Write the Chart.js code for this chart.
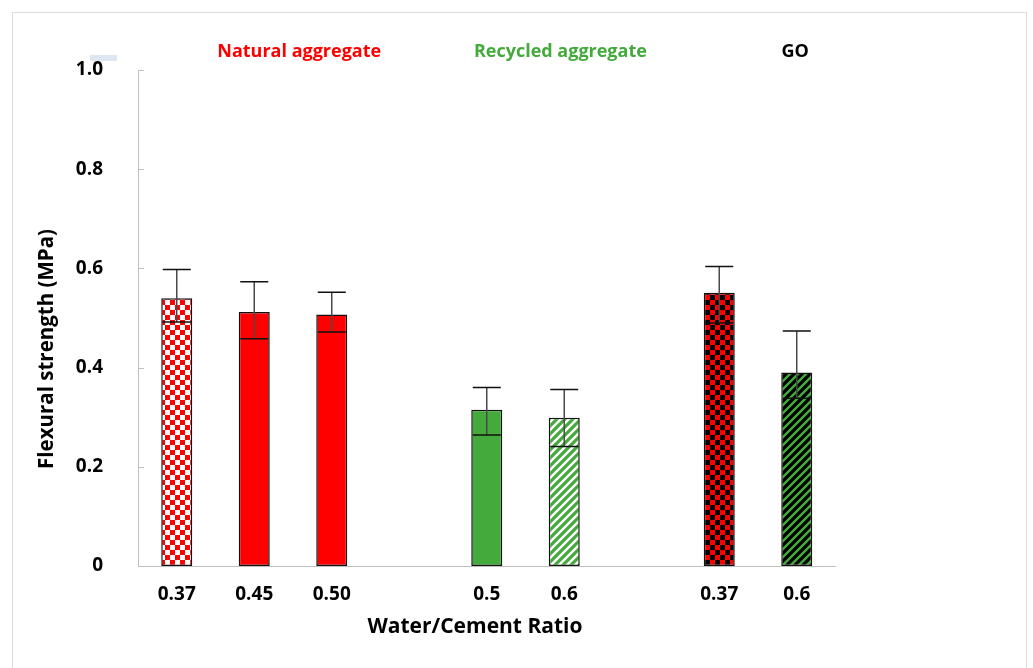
<!DOCTYPE html>
<html>
<head>
<meta charset="utf-8">
<script src="https://cdn.jsdelivr.net/npm/chart.js@4.4.0/dist/chart.umd.min.js"></script>
<style>
  html, body { margin: 0; padding: 0; background: #fff; }
  #wrap { width: 1033px; height: 668px; }
</style>
</head>
<body>
<div id="wrap"><canvas id="chartFlexural" width="1033" height="668"></canvas></div>
<script>
// Water/cement ratios (empty slots separate the three groups)
const ratios = ['0.37', '0.45', '0.50', '', '0.5', '0.6', '', '0.37', '0.6'];
// Mean flexural strength (MPa)
const strength = [0.540, 0.512, 0.507, null, 0.315, 0.299, null, 0.551, 0.390];
// Error bar ends (MPa)
const errHigh = [0.598, 0.573, 0.552, null, 0.360, 0.356, null, 0.604, 0.474];
const errLow = [0.492, 0.458, 0.472, null, 0.264, 0.241, null, 0.490, 0.338];
const groupNames = ['Natural aggregate', 'Recycled aggregate', 'GO'];

const RED = '#ff0000';
const GREEN = '#43aa3b';
const FONT = "'Open Sans', 'DejaVu Sans', sans-serif";

function checker(c1, c2, s) {
    const cv = document.createElement('canvas');
    cv.width = cv.height = s * 2;
    const g = cv.getContext('2d');
    g.fillStyle = c2; g.fillRect(0, 0, s * 2, s * 2);
    g.fillStyle = c1; g.fillRect(0, 0, s, s); g.fillRect(s, s, s, s);
    return g.createPattern(cv, 'repeat');
}

function stripes(fg, bg, p) {
    const cv = document.createElement('canvas');
    cv.width = cv.height = p;
    const g = cv.getContext('2d');
    g.fillStyle = bg; g.fillRect(0, 0, p, p);
    g.strokeStyle = fg; g.lineWidth = p * 0.4;
    g.beginPath();
    g.moveTo(-2, 2); g.lineTo(2, -2);
    g.moveTo(0, p); g.lineTo(p, 0);
    g.moveTo(p - 2, p + 2); g.lineTo(p + 2, p - 2);
    g.stroke();
    return g.createPattern(cv, 'repeat');
}

const fills = [
    checker(RED, '#ffffff', 5), RED, RED, null,
    GREEN, stripes(GREEN, '#ffffff', 8), null,
    checker(RED, '#000000', 5), stripes('#000000', GREEN, 8)
];

// frame, headers, axis titles, inner ticks and error bars
const decor = {
    id: 'decor',
    beforeDraw(chart) {
        const ctx = chart.ctx;
        ctx.save();
        ctx.strokeStyle = '#dcdcdc';
        ctx.lineWidth = 1;
        ctx.strokeRect(12.5, 12.5, 1014, 700);
        ctx.fillStyle = '#dde6f1';
        ctx.fillRect(90, 55, 27, 6);
        ctx.restore();
    },
    afterDatasetsDraw(chart) {
        const ctx = chart.ctx;
        const y = chart.scales.y;
        const meta = chart.getDatasetMeta(0);
        ctx.save();
        meta.data.forEach((bar, i) => {
            if (strength[i] === null) return;
            const top = y.getPixelForValue(errHigh[i]);
            const bot = y.getPixelForValue(errLow[i]);
            ctx.strokeStyle = '#4a4a4a';
            ctx.lineWidth = 1.5;
            ctx.beginPath();
            ctx.moveTo(bar.x, top); ctx.lineTo(bar.x, bot);
            ctx.stroke();
            ctx.strokeStyle = '#111';
            ctx.beginPath();
            ctx.moveTo(bar.x - 14, top); ctx.lineTo(bar.x + 14, top);
            ctx.moveTo(bar.x - 14, bot); ctx.lineTo(bar.x + 14, bot);
            ctx.stroke();
        });
        ctx.restore();
    },
    afterDraw(chart) {
        const ctx = chart.ctx;
        const x = chart.scales.x;
        const y = chart.scales.y;
        const area = chart.chartArea;
        ctx.save();
        // small inward ticks on the y axis
        ctx.strokeStyle = '#bfbfbf';
        ctx.lineWidth = 1;
        y.ticks.forEach(t => {
            if (t.value === 0) return;
            const py = Math.round(y.getPixelForValue(t.value)) + 0.5;
            ctx.beginPath();
            ctx.moveTo(area.left, py); ctx.lineTo(area.left + 6, py);
            ctx.stroke();
        });
        // group headers
        const at = [1.58, 4.95, 7.98];
        const cols = [RED, GREEN, '#000000'];
        ctx.font = `bold 18px ${FONT}`;
        ctx.textAlign = 'center';
        ctx.textBaseline = 'middle';
        groupNames.forEach((n, i) => {
            ctx.fillStyle = cols[i];
            ctx.fillText(n, x.getPixelForValue(at[i]), 52);
        });
        // x axis title
        ctx.fillStyle = '#000';
        ctx.font = `bold 21px ${FONT}`;
        ctx.fillText('Water/Cement Ratio', 475, 627);
        // y axis title
        ctx.translate(47, 349);
        ctx.rotate(-Math.PI / 2);
        ctx.font = `bold 20.5px ${FONT}`;
        ctx.fillText('Flexural strength (MPa)', 0, 0);
        ctx.restore();
    }
};

new Chart(document.getElementById('chartFlexural'), {
    type: 'bar',
    data: {
        labels: ratios,
        datasets: [{
            data: strength,
            backgroundColor: fills,
            borderColor: '#111',
            borderWidth: 1.5,
            borderSkipped: false,
            barPercentage: 0.4,
            categoryPercentage: 1
        }]
    },
    options: {
        responsive: false,
        animation: false,
        devicePixelRatio: 1,
        layout: { padding: { top: 70, right: 197.5, left: 0, bottom: 0 } },
        plugins: { legend: { display: false }, tooltip: { enabled: false } },
        scales: {
            x: {
                grid: { display: false, drawTicks: false },
                border: { display: true, color: '#bfbfbf', width: 1 },
                ticks: { color: '#000', font: { family: FONT, size: 19, weight: 'bold' }, padding: 17, maxRotation: 0, autoSkip: false },
                afterFit: s => { s.height = 102; }
            },
            y: {
                min: 0,
                max: 1,
                grid: { display: false, drawTicks: false },
                border: { display: true, color: '#bfbfbf', width: 1 },
                ticks: {
                    stepSize: 0.2,
                    color: '#000',
                    padding: 35,
                    font: { family: FONT, size: 19, weight: 'bold' },
                    callback: v => v === 0 ? '0' : v.toFixed(1)
                },
                afterFit: s => { s.width = 138; }
            }
        }
    },
    plugins: [decor]
});
</script>
</body>
</html>
